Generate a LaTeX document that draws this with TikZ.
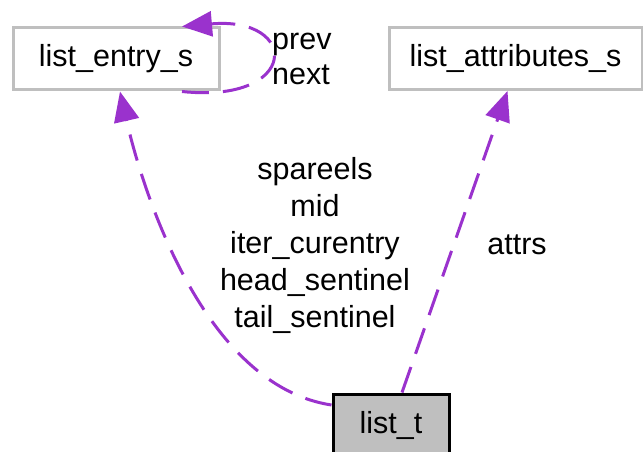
\documentclass[tikz,border=0pt]{standalone}
\usepackage{fontspec}
\setmainfont{Liberation Sans}
\usetikzlibrary{arrows.meta}
\definecolor{edgepurple}{HTML}{9A32CD}
\definecolor{boxgray}{HTML}{BFBFBF}
\tikzset{
  cls/.style={draw=boxgray, line width=3pt, fill=white, minimum height=62pt,
    inner sep=0pt, font=\fontsize{30.5}{36}\selectfont},
  current/.style={cls, draw=black, fill=boxgray},
  dep/.style={draw=edgepurple, line width=3pt, dash pattern=on 27pt off 14pt,
    -{Triangle[length=30pt,width=25pt]}},
  lbl/.style={font=\fontsize{30.5}{37}\selectfont, inner sep=0pt}
}
\begin{document}
\begin{tikzpicture}[x=1pt,y=-1pt]
  \useasboundingbox (0,0) rectangle (643,452);
  % classes
  \node[cls, minimum width=206pt] (entry) at (116,59) {list\_entry\_s};
  \node[cls, minimum width=253pt] (attr) at (515.5,58.5) {list\_attributes\_s};
  \node[current, minimum width=116pt] (list) at (391,425) {list\_t};
  % self reference of the entry type
  \draw[dep] ([xshift=66pt]entry.south)
    .. controls (300,104) and (300,16) .. ([xshift=66pt]entry.north);
  \node[lbl, align=left, anchor=west, font=\fontsize{30.5}{35}\selectfont] (pn) at (272,59) {prev\\next};
  % list_t members
  \draw[dep] ([yshift=20pt]list.west)
    .. controls (200,385) and (140,180) .. ([xshift=4pt]entry.south);
  \node[lbl, align=center] (members) at (315,245)
    {spareels\\mid\\iter\_curentry\\head\_sentinel\\tail\_sentinel};
  \draw[dep] ([xshift=11pt]list.north) -- ([xshift=-8pt]attr.south);
  \node[lbl] (attrs) at (517,245) {attrs};
\end{tikzpicture}
\end{document}
